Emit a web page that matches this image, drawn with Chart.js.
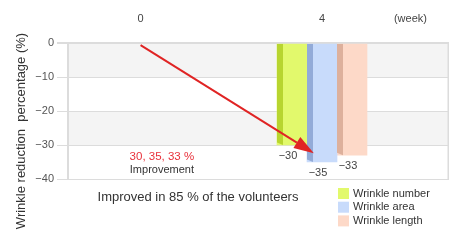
<!DOCTYPE html>
<html>
<head>
<meta charset="utf-8">
<script src="https://cdn.jsdelivr.net/npm/chart.js@4.4.0/dist/chart.umd.min.js"></script>
<style>
  html, body { margin: 0; padding: 0; background: #fff; }
  #wrap { position: relative; width: 450px; height: 249px; }
</style>
</head>
<body>
<div id="wrap"><canvas id="chart"></canvas></div>
<script>
// data
var weeks = [0, 4];
var weekUnit = '(week)';
var seriesNames = ['Wrinkle number', 'Wrinkle area', 'Wrinkle length'];
var seriesValues = [-30, -35, -33];
var frontColors = ['#e2f96c', '#c8dbfb', '#fdd9c8'];
var sideColors = ['#b8d52f', '#93abd8', '#ddb09c'];
var arrowFrom = [0, -0.6];
var arrowTo = [3.82, -32.4];
var noteLines = ['30, 35, 33 %', 'Improvement'];
var footNote = 'Improved in 85 % of the volunteers';
var yTitle = 'Wrinkle reduction  percentage (%)';

var FONT = "'Liberation Sans', Arial, sans-serif";

function minus(v) {
    return v < 0 ? '\u2212' + Math.abs(v) : String(v);
}

var datasets = seriesNames.map(function(name, i){
    return {
        label: name,
        data: [{x: weeks[1], y: seriesValues[i]}],
        backgroundColor: frontColors[i],
        borderWidth: 0,
        barThickness: 30
    };
});

// shaded bands, right border, 3d sides, labels, arrow, notes, legend
var decor = {
    id: 'decor',
    beforeDraw: function(chart){
        var ctx = chart.ctx, a = chart.chartArea, y = chart.scales.y;
        ctx.save();
        ctx.fillStyle = '#f4f4f4';
        [[0, -10], [-20, -30]].forEach(function(b){
            var t = y.getPixelForValue(b[0]), btm = y.getPixelForValue(b[1]);
            ctx.fillRect(a.left, t, a.right - a.left, btm - t);
        });
        ctx.strokeStyle = '#dcdcdc';
        ctx.lineWidth = 1.5;
        ctx.beginPath();
        ctx.moveTo(a.right - 0.75, a.top);
        ctx.lineTo(a.right - 0.75, a.bottom);
        ctx.stroke();
        ctx.restore();
    },
    afterDatasetsDraw: function(chart){
        var ctx = chart.ctx, xs = chart.scales.x, ys = chart.scales.y;
        ctx.save();
        chart.data.datasets.forEach(function(ds, i){
            var meta = chart.getDatasetMeta(i);
            meta.data.forEach(function(bar){
                var p = bar.getProps(['x', 'y', 'base', 'width'], true);
                var left = p.x - p.width / 2;
                ctx.fillStyle = sideColors[i];
                ctx.beginPath();
                ctx.moveTo(left, p.base);
                ctx.lineTo(left + 6, p.base);
                ctx.lineTo(left + 6, p.y);
                ctx.lineTo(left, p.y - 2.5);
                ctx.closePath();
                ctx.fill();
                ctx.fillStyle = '#444';
                ctx.font = '11px ' + FONT;
                ctx.textAlign = 'center';
                ctx.textBaseline = 'middle';
                ctx.fillText(minus(ds.data[0].y), p.x - 4, p.y + 11);
            });
        });

        // red arrow
        var x0 = xs.getPixelForValue(arrowFrom[0]), y0 = ys.getPixelForValue(arrowFrom[1]);
        var x1 = xs.getPixelForValue(arrowTo[0]), y1 = ys.getPixelForValue(arrowTo[1]);
        var ang = Math.atan2(y1 - y0, x1 - x0);
        var len = 20, half = 6.5;
        var bx = x1 - len * Math.cos(ang), by = y1 - len * Math.sin(ang);
        ctx.strokeStyle = '#e02424';
        ctx.fillStyle = '#e02424';
        ctx.lineWidth = 2;
        ctx.beginPath();
        ctx.moveTo(x0, y0);
        ctx.lineTo(bx, by);
        ctx.stroke();
        ctx.beginPath();
        ctx.moveTo(x1, y1);
        ctx.lineTo(bx + half * Math.sin(ang), by - half * Math.cos(ang));
        ctx.lineTo(bx - half * Math.sin(ang), by + half * Math.cos(ang));
        ctx.closePath();
        ctx.fill();
        ctx.restore();
    },
    afterDraw: function(chart){
        var ctx = chart.ctx, a = chart.chartArea, xs = chart.scales.x, ys = chart.scales.y;
        ctx.save();
        ctx.textAlign = 'center';
        ctx.textBaseline = 'middle';

        // note under the arrow start
        var nx = xs.getPixelForValue(0.47);
        ctx.font = '11.5px ' + FONT;
        ctx.fillStyle = '#e8303a';
        ctx.fillText(noteLines[0], nx, ys.getPixelForValue(-33.4));
        ctx.font = '11px ' + FONT;
        ctx.fillStyle = '#333';
        ctx.fillText(noteLines[1], nx, ys.getPixelForValue(-37.2));

        // foot note
        ctx.font = '13px ' + FONT;
        ctx.fillStyle = '#333';
        ctx.fillText(footNote, a.left + 130, a.bottom + 18);

        // y title
        ctx.save();
        ctx.translate(21, 131);
        ctx.rotate(-Math.PI / 2);
        ctx.font = '13px ' + FONT;
        ctx.fillStyle = '#333';
        ctx.fillText(yTitle, 0, 0);
        ctx.restore();

        // legend
        ctx.textAlign = 'left';
        ctx.font = '11px ' + FONT;
        chart.data.datasets.forEach(function(ds, i){
            var cy = a.bottom + 14.5 + i * 13.7;
            ctx.fillStyle = ds.backgroundColor;
            ctx.fillRect(338, cy - 5.5, 11, 11);
            ctx.fillStyle = '#333';
            ctx.fillText(ds.label, 353, cy);
        });
        ctx.restore();
    }
};

var config = {
    type: 'bar',
    data: { datasets: datasets },
    options: {
        responsive: false,
        animation: false,
        layout: { padding: { left: 0, top: 0, right: 1, bottom: 70 } },
        plugins: {
            legend: { display: false },
            tooltip: { enabled: false }
        },
        scales: {
            x: {
                type: 'linear',
                position: 'top',
                offset: false,
                min: -1.6,
                max: 6.8,
                grid: { display: false, offset: false },
                border: { display: false },
                afterBuildTicks: function(scale){
                    scale.ticks = weeks.map(function(w){ return {value: w}; }).concat([{value: 5.95}]);
                },
                afterFit: function(scale){ scale.height = 43; },
                ticks: {
                    autoSkip: false,
                    maxRotation: 0,
                    padding: 9,
                    color: '#444',
                    font: { family: FONT, size: 11 },
                    callback: function(v){ return weeks.indexOf(v) >= 0 ? String(v) : weekUnit; }
                }
            },
            y: {
                min: -40,
                max: 0,
                afterFit: function(scale){ scale.width = 68; },
                grid: {
                    color: '#dcdcdc',
                    tickLength: 11,
                    lineWidth: function(c){ return c.tick && c.tick.value === 0 ? 2 : 1; }
                },
                border: { display: true, color: '#dcdcdc', width: 2 },
                ticks: {
                    stepSize: 10,
                    padding: 3,
                    color: '#555',
                    font: { family: FONT, size: 11 },
                    callback: function(v){ return minus(v); }
                }
            }
        }
    },
    plugins: [decor]
};

var canvas = document.getElementById('chart');
canvas.width = 450;
canvas.height = 249;
var myChart = new Chart(canvas, config);
</script>
</body>
</html>
